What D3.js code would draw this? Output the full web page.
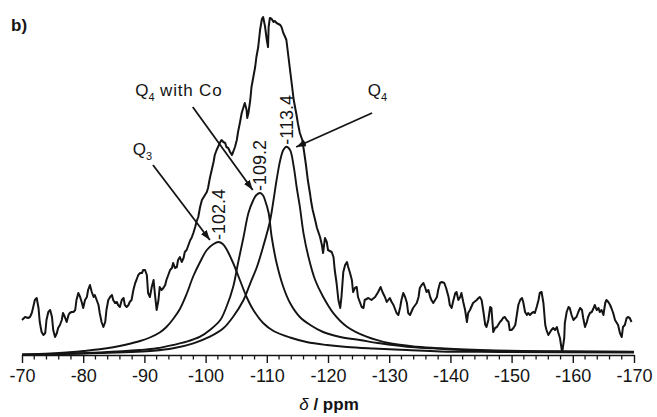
<!DOCTYPE html>
<html><head><meta charset="utf-8">
<script src="https://cdn.jsdelivr.net/npm/d3@7"></script>
<style>body{margin:0;background:#fff}svg{display:block}</style>
</head><body>
<svg id="c" width="657" height="417"></svg>
<script>
// ---- data (ppm, intensity a.u.) ----
const experimental = [[-70.0,32],[-70.5,35],[-71.0,34],[-71.3,35],[-71.6,39],[-71.8,44],[-72.1,52],[-72.4,54],[-72.7,44],[-72.9,30],[-73.2,20],[-73.5,17],[-73.8,19],[-74.0,32],[-74.3,40],[-74.6,42],[-74.9,35],[-75.1,22],[-75.4,15],[-75.7,19],[-75.9,24],[-76.2,27],[-76.5,32],[-76.7,39],[-77.0,35],[-77.3,30],[-77.6,37],[-77.8,39],[-78.1,40],[-78.4,40],[-78.7,42],[-78.9,52],[-79.2,59],[-79.5,55],[-79.8,49],[-80.0,44],[-80.3,52],[-80.6,55],[-80.8,62],[-81.1,67],[-81.4,60],[-81.7,55],[-81.9,57],[-82.2,52],[-82.5,47],[-82.7,39],[-83.0,30],[-83.3,25],[-83.6,30],[-83.8,42],[-84.1,52],[-84.4,55],[-84.7,57],[-84.9,52],[-85.2,49],[-85.5,50],[-85.7,47],[-86.0,45],[-86.3,52],[-86.6,54],[-86.8,47],[-87.1,45],[-87.4,47],[-87.6,50],[-87.9,52],[-88.2,62],[-88.5,69],[-88.7,72],[-89.0,77],[-89.3,79],[-89.6,79],[-89.8,82],[-90.1,82],[-90.4,77],[-90.6,59],[-90.9,55],[-91.2,65],[-91.5,72],[-91.7,59],[-92.0,42],[-92.3,52],[-92.5,65],[-92.8,62],[-93.1,64],[-93.4,67],[-93.6,72],[-93.9,77],[-94.2,82],[-94.5,84],[-94.7,89],[-95.0,84],[-95.3,85],[-95.5,92],[-95.8,95],[-96.1,90],[-96.4,94],[-96.6,100],[-96.9,102],[-97.2,107],[-97.5,112],[-97.7,114],[-98.0,119],[-98.3,125],[-98.5,130],[-98.8,135],[-99.1,145],[-99.4,152],[-99.6,154],[-99.9,157],[-100.2,160],[-100.4,164],[-100.7,174],[-101.0,182],[-101.3,190],[-101.5,197],[-101.8,202],[-102.1,206],[-102.4,210],[-102.6,212],[-102.9,210],[-103.2,209],[-103.4,205],[-103.7,204],[-104.0,200],[-104.3,197],[-104.5,200],[-104.8,205],[-105.1,212],[-105.3,220],[-105.6,229],[-105.9,239],[-106.2,245],[-106.4,249],[-106.7,242],[-106.8,234],[-107.0,239],[-107.3,252],[-107.5,265],[-107.8,275],[-108.1,285],[-108.3,295],[-108.6,305],[-108.9,322],[-109.2,333],[-109.4,335],[-109.7,326],[-110.0,312],[-110.2,305],[-110.3,325],[-110.5,334],[-110.8,333],[-111.1,330],[-111.3,331],[-111.6,329],[-111.9,328],[-112.2,327],[-112.4,325],[-112.7,319],[-113.0,315],[-113.2,312],[-113.5,297],[-113.8,282],[-114.1,267],[-114.4,252],[-114.8,239],[-115.1,228],[-115.4,219],[-115.8,212],[-116.1,200],[-116.4,187],[-116.7,172],[-117.1,157],[-117.2,152],[-117.5,142],[-117.9,132],[-118.2,124],[-118.7,115],[-119.0,107],[-119.2,99],[-119.5,114],[-119.8,110],[-120.0,102],[-120.6,100],[-120.9,95],[-121.1,82],[-121.4,69],[-121.7,52],[-122.0,44],[-122.2,55],[-122.5,80],[-122.8,87],[-123.1,90],[-123.3,85],[-123.6,79],[-123.9,72],[-124.1,60],[-124.4,64],[-124.7,65],[-124.9,55],[-125.2,50],[-125.5,45],[-125.8,44],[-126.0,52],[-126.6,54],[-127.1,52],[-127.7,55],[-128.2,60],[-128.6,65],[-128.9,60],[-129.3,55],[-129.6,50],[-130.1,54],[-130.4,50],[-130.7,47],[-131.2,39],[-131.5,37],[-131.8,45],[-132.0,52],[-132.3,59],[-132.6,55],[-132.9,49],[-133.1,39],[-133.4,37],[-133.9,44],[-134.5,49],[-134.8,55],[-135.0,64],[-135.3,67],[-135.6,69],[-135.9,64],[-136.1,60],[-136.4,62],[-136.7,55],[-136.9,52],[-137.2,49],[-137.5,52],[-137.8,55],[-138.0,62],[-138.3,69],[-138.6,70],[-139.0,69],[-139.3,64],[-139.7,55],[-139.9,47],[-140.2,44],[-140.5,52],[-140.8,59],[-141.0,60],[-141.3,52],[-141.6,55],[-141.8,59],[-142.1,50],[-142.4,42],[-142.7,30],[-142.9,39],[-143.2,42],[-143.7,49],[-144.3,52],[-144.6,54],[-144.8,55],[-145.1,52],[-145.4,40],[-145.7,27],[-145.9,25],[-146.2,32],[-146.5,45],[-146.7,44],[-147.0,20],[-147.3,24],[-147.6,25],[-147.8,27],[-148.1,30],[-148.4,32],[-148.6,34],[-148.9,35],[-149.2,32],[-149.5,30],[-149.7,22],[-150.0,22],[-150.3,24],[-150.6,27],[-150.8,35],[-151.1,47],[-151.4,52],[-151.7,54],[-151.9,50],[-152.2,40],[-152.5,37],[-152.7,39],[-153.0,37],[-153.3,39],[-153.6,40],[-153.8,39],[-154.1,45],[-154.4,52],[-154.6,59],[-154.9,60],[-155.2,49],[-155.5,27],[-155.7,22],[-156.0,17],[-156.3,20],[-156.5,22],[-156.8,24],[-157.1,22],[-157.4,25],[-157.6,20],[-157.9,14],[-158.2,2],[-158.3,1],[-158.6,14],[-158.7,29],[-159.0,40],[-159.3,45],[-159.5,44],[-159.8,37],[-160.1,32],[-160.4,34],[-160.6,35],[-160.9,40],[-161.2,44],[-161.5,42],[-161.7,34],[-162.0,25],[-162.3,30],[-162.5,35],[-162.8,39],[-163.1,40],[-163.4,44],[-163.6,47],[-163.9,42],[-164.2,44],[-164.4,40],[-164.7,42],[-165.0,37],[-165.3,49],[-165.5,52],[-165.8,50],[-166.1,47],[-166.3,44],[-166.6,39],[-166.9,32],[-167.2,29],[-167.4,27],[-167.7,19],[-168.0,15],[-168.2,25],[-168.5,27],[-168.8,34],[-169.0,35],[-169.3,34],[-169.6,30]];

const fitQ3 = [[-70.0,-2.5],[-74.6,-1.5],[-77.3,-0.5],[-80.0,1],[-82.7,2.7],[-84.9,4.7],[-87.1,7.5],[-89.3,11],[-90.9,14.5],[-92.5,19.5],[-93.6,25],[-94.7,33],[-95.8,43],[-96.9,58],[-98.0,76],[-99.1,90],[-100.2,102],[-101.3,108],[-102.1,110],[-102.8,108],[-103.4,103],[-104.5,89],[-105.6,72],[-106.7,55],[-107.8,42],[-109.4,29],[-111.1,21],[-113.8,14.5],[-116.5,10],[-119.8,7],[-123.1,5],[-127.4,3.5],[-132.9,2],[-138.3,0.5],[-148.1,0],[-170.0,-0.5]];

const fitQ4Co = [[-70.0,-2.5],[-76.2,-2],[-82.7,-0.5],[-89.3,2],[-92.0,3.7],[-94.7,7],[-96.9,10.3],[-99.1,15.3],[-100.7,22],[-102.4,32],[-103.4,45],[-104.5,65],[-105.3,89],[-106.2,115],[-107.0,139],[-107.8,152],[-108.3,157],[-108.9,159],[-109.4,156.5],[-109.7,152],[-110.3,139],[-110.8,115],[-111.6,89],[-112.7,65],[-113.8,49],[-115.4,35],[-117.1,27],[-119.2,20],[-122.0,15],[-125.2,12],[-128.5,8.7],[-132.9,5.3],[-137.2,3.7],[-144.8,1.5],[-157.9,0.5],[-170.0,0]];

const fitQ4 = [[-70.0,-3],[-76.2,-2],[-82.7,-1],[-91.5,1.3],[-94.7,3.7],[-98.0,8.7],[-100.7,15.3],[-102.9,23.7],[-104.5,35.3],[-106.2,52],[-107.3,68.7],[-108.4,85.3],[-109.4,105.3],[-110.5,130.3],[-111.1,152],[-111.6,172],[-112.2,192],[-112.7,202],[-113.2,205.3],[-113.8,202],[-114.4,185.3],[-114.9,164],[-115.4,145.3],[-116.0,118.7],[-116.8,95.3],[-117.9,72],[-119.2,55.3],[-120.9,38.7],[-123.1,25.3],[-126.3,15.3],[-130.1,8.7],[-134.5,5.3],[-138.3,3.7],[-144.8,2],[-154.6,0.8],[-170.0,0.2]];

const fits = [fitQ3, fitQ4Co, fitQ4];
const peakLabels = ["-102.4", "-109.2", "-113.4"];
const majorTicks = [-70, -80, -90, -100, -110, -120, -130, -140, -150, -160, -170];

// annotations (label anchor, arrow start, arrow tip) in data units
const annotations = [
  {main: "Q", sub: "3", rest: "", lab: [-88.1, 197], from: [-91.4, 187], to: [-100.7, 112]},
  {main: "Q", sub: "4", rest: " with Co", lab: [-88.5, 256], from: [-97.9, 245], to: [-107.7, 162]},
  {main: "Q", sub: "4", rest: "", lab: [-126.5, 256], from: [-127.2, 239], to: [-114.8, 205]}
];

// ---- drawing ----
const FONT = "'Liberation Sans', Arial, Helvetica, sans-serif";
const INK = "#141414";
const svg = d3.select("#c").style("font-family", FONT);

const x = d3.scaleLinear().domain([-70, -170]).range([22, 634]);
const y = d3.scaleLinear().domain([0, 340]).range([352, 12]);

const defs = svg.append("defs");
defs.append("marker").attr("id", "ah")
  .attr("viewBox", "0 0 10 7").attr("refX", 10).attr("refY", 3.5)
  .attr("markerWidth", 10).attr("markerHeight", 7)
  .attr("markerUnits", "userSpaceOnUse").attr("orient", "auto")
  .append("path").attr("d", "M0,0L10,3.5L0,7Z").attr("fill", INK);

const lineExp = d3.line().x(d => x(d[0])).y(d => y(d[1]));
const lineFit = d3.line().x(d => x(d[0])).y(d => y(d[1])).curve(d3.curveCatmullRom.alpha(0.5));

// fitted components
svg.append("g").selectAll("path").data(fits).join("path")
  .attr("d", lineFit).attr("fill", "none").attr("stroke", INK)
  .attr("stroke-width", 1.9).attr("stroke-linejoin", "round");

// experimental spectrum
svg.append("path").datum(experimental).attr("d", lineExp)
  .attr("fill", "none").attr("stroke", INK).attr("stroke-width", 2)
  .attr("stroke-linejoin", "round");

// peak position labels (rotated)
fits.forEach((f, i) => {
  const pk = f.reduce((a, b) => (b[1] > a[1] ? b : a));
  const px = x(pk[0]), py = y(pk[1]) - 2;
  svg.append("text")
    .attr("transform", `translate(${px},${py}) rotate(-90)`)
    .attr("dy", "0.35em").attr("font-size", 18).attr("fill", INK)
    .text(peakLabels[i]);
});

// annotation labels and arrows
annotations.forEach(a => {
  svg.append("line")
    .attr("x1", x(a.from[0])).attr("y1", y(a.from[1]))
    .attr("x2", x(a.to[0])).attr("y2", y(a.to[1]))
    .attr("stroke", INK).attr("stroke-width", 1.8)
    .attr("marker-end", "url(#ah)");
  const t = svg.append("text").attr("x", x(a.lab[0])).attr("y", y(a.lab[1]))
    .attr("font-size", 17).attr("fill", INK);
  t.append("tspan").text(a.main);
  t.append("tspan").attr("font-size", 11).attr("dy", 5).text(a.sub);
  if (a.rest) t.append("tspan").attr("dy", -5).attr("letter-spacing", 0.8).text(a.rest);
});

// x axis
const axisY = 355;
const ax = svg.append("g").attr("transform", `translate(0,${axisY})`)
  .call(d3.axisBottom(x).tickValues(majorTicks).tickFormat(d => String(d))
    .tickSize(8).tickSizeOuter(0).tickPadding(6));
ax.select(".domain").attr("stroke", INK).attr("stroke-width", 1.7);
ax.selectAll(".tick line").attr("stroke", INK).attr("stroke-width", 1.4);
ax.selectAll(".tick text").attr("font-size", 18).attr("font-family", FONT).attr("fill", INK);

const minorTicks = d3.range(-72, -170, -2).filter(v => v % 10 !== 0);
ax.selectAll(".minor").data(minorTicks).join("line").attr("class", "minor")
  .attr("x1", d => x(d)).attr("x2", d => x(d)).attr("y1", 0).attr("y2", 4.5)
  .attr("stroke", INK).attr("stroke-width", 1.3);

// axis title
const title = svg.append("text").attr("x", 329).attr("y", 410)
  .attr("text-anchor", "middle").attr("font-size", 17).attr("fill", INK);
title.append("tspan").attr("font-style", "italic").text("δ");
title.append("tspan").attr("font-weight", "bold").text(" / ppm");

// panel tag
svg.append("text").attr("x", 11).attr("y", 31).attr("font-size", 17)
  .attr("font-weight", "bold").attr("fill", INK).text("b)");
</script>
</body></html>
